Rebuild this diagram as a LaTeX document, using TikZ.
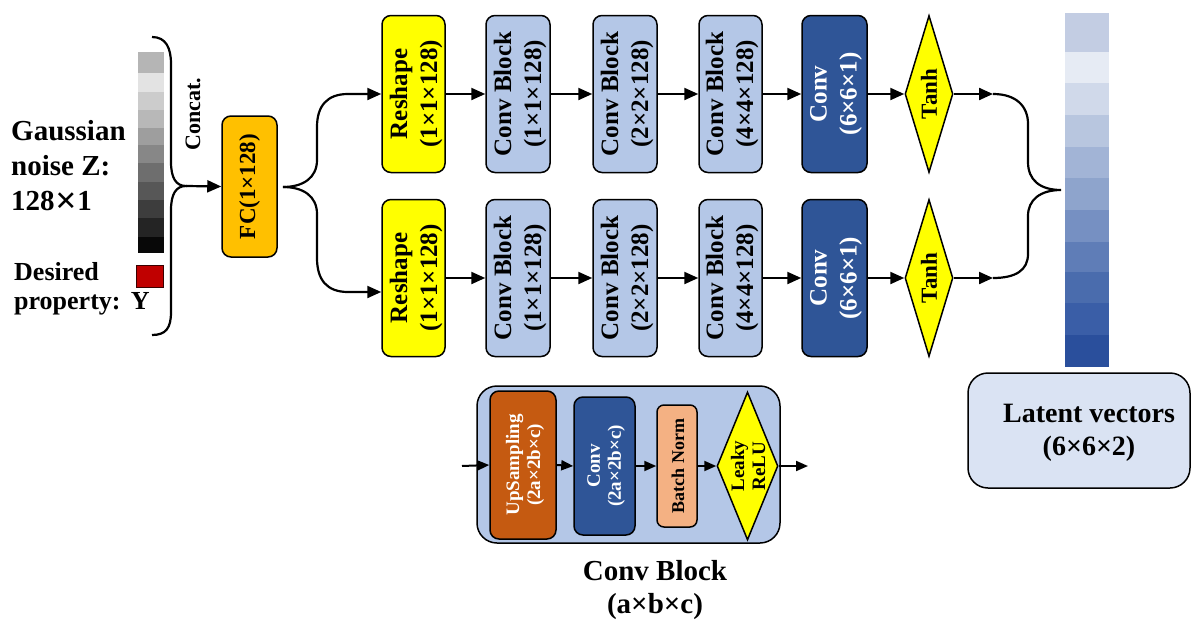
\documentclass[tikz,border=0pt]{standalone}
\usepackage{fontspec}
\setmainfont{Liberation Serif}
\newfontfamily\symfont{DejaVu Sans}
\usetikzlibrary{arrows.meta,shapes.geometric}

\definecolor{fcorange}{HTML}{FFC000}
\definecolor{yel}{HTML}{FFFF00}
\definecolor{cbblue}{HTML}{B4C7E7}
\definecolor{convblue}{HTML}{2F5597}
\definecolor{latbox}{HTML}{DAE3F3}
\definecolor{upsorange}{HTML}{C55A11}
\definecolor{bnpeach}{HTML}{F4B183}
\definecolor{propred}{HTML}{C00000}

\tikzset{
  blk/.style={draw, line width=1.5pt, rounded corners=9pt, inner sep=0pt},
  dia/.style={diamond, draw, line width=1.5pt, fill=yel, inner sep=0pt},
  lbl/.style={rotate=90, align=center, inner sep=0pt,
              font=\bfseries\fontsize{25}{30}\selectfont},
  slbl/.style={rotate=90, align=center, inner sep=0pt,
              font=\bfseries\fontsize{19}{21}\selectfont},
  arr/.style={line width=2.2pt, -{Triangle[length=14pt,width=12pt]}},
  sarr/.style={line width=2pt, -{Triangle[length=12pt,width=10pt]}},
  ln/.style={line width=2.2pt},
}

\begin{document}
\begin{tikzpicture}[x=1pt,y=-1pt]
\useasboundingbox (0,0) rectangle (1192,624);

% ---------- input: noise vector and property ----------
\foreach \ya/\yb/\g in {52/73/71,73/92/89,92/110/80,110/128/72,128/145/62,
    145/163/53,163/182/43,182/200/34,200/218/24,218/237/14,237/253/3}{
  \fill[white!\g!black] (138,\ya) rectangle (164,\yb);
}
\node[draw=black!70!propred, line width=0.8pt, fill=propred,
      minimum width=27, minimum height=22, inner sep=0] (prop) at (149.5,276) {};

\node[anchor=west, align=left, inner sep=0,
      font=\bfseries\fontsize{29}{35}\selectfont] (noise) at (11,166)
      {Gaussian\\noise Z:\\128{\symfont\bfseries\fontsize{27}{35}\selectfont ✕}1};
\node[anchor=west, align=left, inner sep=0,
      font=\bfseries\fontsize{26}{29}\selectfont] (proptxt) at (14,289)
      {Desired\\property:\hspace{0.4em}Y};

% concatenation brace
\coordinate (bt) at (152,37);
\coordinate (bb) at (152,335);
\coordinate (tip) at (186,186);
\draw[ln] (bt) .. controls (166,37) and (171,48) .. (171,64) -- (171,162)
          .. controls (171,178) and (176,186) .. (tip)
          .. controls (176,186) and (171,194) .. (171,210) -- (171,312)
          .. controls (171,328) and (166,335) .. (bb);
\node[lbl, font=\bfseries\fontsize{22}{26}\selectfont] (concat) at (193,114) {Concat.};

% ---------- fully connected layer ----------
\node[blk, fill=fcorange, minimum width=55, minimum height=141] (fc) at (249.5,186.5) {};
\node[lbl, font=\bfseries\fontsize{23}{27}\selectfont] (fct) at (fc) {FC(1×128)};
\draw[arr] (tip) -- (fc.west);

% ---------- two generator branches ----------
\foreach \r/\y in {a/94,b/278}{
  \node[blk, fill=yel, minimum width=63, minimum height=157] (rs\r) at (413.5,\y) {};
  \node[lbl] (rs\r t) at (416,\y) {Reshape\\(1×1×128)};
  \node[blk, fill=cbblue, minimum width=64, minimum height=157] (cb1\r) at (518,\y) {};
  \node[lbl] (cb1\r t) at (520,\y) {Conv Block\\(1×1×128)};
  \node[blk, fill=cbblue, minimum width=64, minimum height=157] (cb2\r) at (625,\y) {};
  \node[lbl] (cb2\r t) at (627,\y) {Conv Block\\(2×2×128)};
  \node[blk, fill=cbblue, minimum width=63, minimum height=157] (cb3\r) at (730.5,\y) {};
  \node[lbl] (cb3\r t) at (732,\y) {Conv Block\\(4×4×128)};
  \node[blk, fill=convblue, minimum width=65, minimum height=157] (cv\r) at (834.5,\y) {};
  \node[lbl, text=white] (cv\r t) at (836,\y) {Conv\\(6×6×1)};
  \node[dia, minimum width=48, minimum height=157] (th\r) at (929,\y) {};
  \node[lbl, font=\bfseries\fontsize{23}{27}\selectfont] (th\r t) at (929,\y) {Tanh};
  \coordinate (out\r) at (993,\y);
  \draw[arr] (rs\r.east) -- (cb1\r.west);
  \draw[arr] (cb1\r.east) -- (cb2\r.west);
  \draw[arr] (cb2\r.east) -- (cb3\r.west);
  \draw[arr] (cb3\r.east) -- (cv\r.west);
  \draw[arr] (cv\r.east) -- (th\r.west);
  \draw[arr] (th\r.east) -- (out\r);
}

% fork from the FC layer
\coordinate (fk) at (283,187);
\draw[arr] (fk) .. controls (303,187) and (317,178) .. (317,160) -- (317,127)
           .. controls (317,106) and (327,94) .. (348,94) -- (rsa.west);
\draw[arr] (fk) .. controls (303,187) and (317,196) .. (317,214) -- (317,258)
           .. controls (317,280) and (327,292) .. (348,292) -- ([yshift=-14pt]rsb.west);

% merging brace on the output side
\coordinate (mt) at (1061,190);
\draw[ln] (outa) .. controls (1016,94) and (1028,106) .. (1028,124) -- (1028,162)
          .. controls (1028,180) and (1040,190) .. (mt)
          .. controls (1040,190) and (1028,200) .. (1028,216) -- (1028,254)
          .. controls (1028,270) and (1016,278) .. (outb);

% ---------- latent vector column ----------
\foreach \ya/\yb/\c in {13/52/C3CDE3,52/83/E6EBF4,83/115/D0D9EA,115/147/B8C6DF,
    147/178/A2B4D6,178/210/8EA4CC,210/242/7690C2,242/272/5F7DB7,
    272/303/4A6CAD,303/335/3A5EA7,335/367/2A4F9C}{
  \definecolor{cell}{HTML}{\c}
  \fill[cell] (1065,\ya) rectangle (1109,\yb);
}
\node[draw, line width=1.5pt, rounded corners=20pt, fill=latbox,
      minimum width=222, minimum height=115, inner sep=0] (lat) at (1079,430.5) {};
\node[align=center, inner sep=0, font=\bfseries\fontsize{28}{33}\selectfont]
      (latt) at (1089,433) {Latent vectors\\(6×6×2)};

% ---------- inside a conv block ----------
\node[draw, line width=1.5pt, rounded corners=20pt, fill=cbblue,
      minimum width=303, minimum height=157, inner sep=0] (cbx) at (628.5,464.5) {};
\node[blk, fill=upsorange, minimum width=66, minimum height=148] (ups) at (523,465) {};
\node[slbl, text=white] (upst) at (525,465) {UpSampling\\(2a×2b×c)};
\node[blk, fill=convblue, minimum width=61, minimum height=138] (icv) at (604.5,466) {};
\node[slbl, text=white] (icvt) at (606,466) {Conv\\(2a×2b×c)};
\node[blk, fill=bnpeach, rounded corners=7pt, minimum width=40, minimum height=122] (bn) at (677,466) {};
\node[slbl, font=\bfseries\fontsize{18}{21}\selectfont] (bnt) at (678,466) {Batch Norm};
\node[dia, minimum width=61, minimum height=148] (lr) at (747.5,466) {};
\node[slbl] (lrt) at (748,466) {Leaky\\ReLU};
\coordinate (cin) at (462,466);
\coordinate (cout) at (808,466);
\draw[sarr] (cin) -- (ups.west);
\draw[sarr] (ups.east) -- (icv.west);
\draw[sarr] (icv.east) -- (bn.west);
\draw[sarr] (bn.east) -- (lr.west);
\draw[sarr] (lr.east) -- (cout);
\node[align=center, inner sep=0, font=\bfseries\fontsize{29}{33}\selectfont]
      (cbcap) at (655,590) {Conv Block\\(a×b×c)};
\end{tikzpicture}
\end{document}
